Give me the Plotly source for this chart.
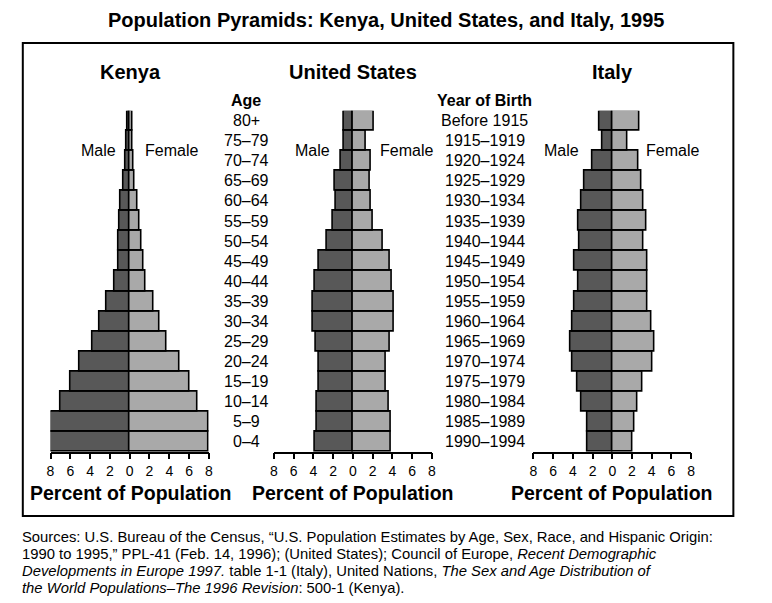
import plotly.graph_objects as go

ages = ["0–4", "5–9", "10–14", "15–19", "20–24", "25–29", "30–34", "35–39", "40–44",
        "45–49", "50–54", "55–59", "60–64", "65–69", "70–74", "75–79", "80+"]
birth_years = ["1990–1994", "1985–1989", "1980–1984", "1975–1979", "1970–1974", "1965–1969",
               "1960–1964", "1955–1959", "1950–1954", "1945–1949", "1940–1944", "1935–1939",
               "1930–1934", "1925–1929", "1920–1924", "1915–1919", "Before 1915"]

kenya_male = [8.0, 8.0, 7.0, 6.0, 5.1, 3.8, 3.0, 2.3, 1.5, 1.15, 1.15, 1.0, 0.9, 0.6, 0.4, 0.3, 0.25]
kenya_female = [8.0, 8.0, 6.9, 6.0, 5.0, 3.7, 3.05, 2.4, 1.55, 1.35, 1.15, 0.95, 0.75, 0.45, 0.35, 0.3, 0.25]
us_male = [3.85, 3.65, 3.65, 3.45, 3.45, 3.7, 4.05, 4.05, 3.8, 3.45, 2.65, 2.0, 1.75, 1.8, 1.2, 0.9, 0.95]
us_female = [3.85, 3.85, 3.6, 3.3, 3.35, 3.8, 4.15, 4.15, 4.0, 3.7, 3.0, 2.0, 1.85, 1.75, 1.85, 1.35, 2.15]
italy_male = [2.5, 2.5, 3.1, 3.5, 4.0, 4.25, 4.0, 3.8, 3.4, 3.8, 3.35, 3.4, 3.1, 2.85, 2.05, 0.95, 1.35]
italy_female = [2.0, 2.3, 2.6, 3.1, 4.05, 4.25, 4.0, 3.6, 3.6, 3.6, 3.2, 3.5, 3.2, 2.95, 2.7, 1.55, 2.8]

countries = ["Kenya", "United States", "Italy"]
tick_vals = [-8, -6, -4, -2, 0, 2, 4, 6, 8]
tick_text = ["8", "6", "4", "2", "0", "2", "4", "6", "8"]

source_lines = [
    "Sources: U.S. Bureau of the Census, “U.S. Population Estimates by Age, Sex, Race, and Hispanic Origin:",
    "1990 to 1995,” PPL-41 (Feb. 14, 1996); (United States); Council of Europe, <i>Recent Demographic</i>",
    "<i>Developments in Europe 1997.</i> table 1-1 (Italy), United Nations, <i>The Sex and Age Distribution of</i>",
    "<i>the World Populations–The 1996 Revision</i>: 500-1 (Kenya).",
]

W, H = 772, 603
FONT = "Liberation Sans, Arial, sans-serif"
MALE_C = "#585858"
FEMALE_C = "#a9a9a9"

def px(x):
    return x / W

def py(y):
    return 1 - y / H

x_domains = [(47, 207), (272.7, 432.3), (535, 694.3)]
y_dom = [py(451.7), py(110.7)]

fig = go.Figure()
data = [(kenya_male, kenya_female), (us_male, us_female), (italy_male, italy_female)]
pos = list(range(len(ages)))
for i, (m, f) in enumerate(data):
    xa = "x" if i == 0 else f"x{i+1}"
    ya = "y" if i == 0 else f"y{i+1}"
    fig.add_trace(go.Bar(y=pos, x=[-v for v in m], orientation="h", xaxis=xa, yaxis=ya,
                         marker=dict(color=MALE_C, line=dict(color="black", width=1.6)),
                         showlegend=False, hoverinfo="skip"))
    fig.add_trace(go.Bar(y=pos, x=f, orientation="h", xaxis=xa, yaxis=ya,
                         marker=dict(color=FEMALE_C, line=dict(color="black", width=1.6)),
                         showlegend=False, hoverinfo="skip"))

layout = dict(
    width=W, height=H, margin=dict(l=0, r=0, t=0, b=0),
    paper_bgcolor="white", plot_bgcolor="white",
    barmode="relative", bargap=0,
    font=dict(family=FONT, color="black"),
)
for i, (a, b) in enumerate(x_domains):
    xk = "xaxis" if i == 0 else f"xaxis{i+1}"
    yk = "yaxis" if i == 0 else f"yaxis{i+1}"
    layout[xk] = dict(domain=[px(a), px(b)], range=[-8, 8], tickvals=tick_vals, ticktext=tick_text,
                      ticks="outside", ticklen=6, tickwidth=1.5, tickcolor="black",
                      showline=True, linecolor="black", linewidth=1.5, showgrid=False,
                      zeroline=False, tickfont=dict(size=14, family=FONT),
                      anchor="y" if i == 0 else f"y{i+1}", fixedrange=True)
    layout[yk] = dict(domain=y_dom, range=[-0.5, 16.5], visible=False,
                      anchor="x" if i == 0 else f"x{i+1}", fixedrange=True)
fig.update_layout(**layout)

ann = []
ann.append(dict(text="<b>Population Pyramids: Kenya, United States, and Italy, 1995</b>",
                x=px(386), y=py(20), xref="paper", yref="paper", showarrow=False,
                font=dict(size=20, family=FONT), xanchor="center", yanchor="middle"))
centers = [128, 352.5, 614.5]
for c, name in zip(centers, countries):
    ann.append(dict(text=f"<b>{name}</b>", x=px(c), y=py(72), xref="paper", yref="paper",
                    showarrow=False, font=dict(size=20, family=FONT), xanchor="center", yanchor="middle"))
    ann.append(dict(text="<b>Percent of Population</b>", x=px(c), y=py(493), xref="paper", yref="paper",
                    showarrow=False, font=dict(size=19.5, family=FONT), xanchor="center", yanchor="middle"))
for mx, fx in [(95, 169), (312, 407), (563, 676)]:
    ann.append(dict(text="Male", x=px(mx), y=py(150), xref="paper", yref="paper", showarrow=False,
                    font=dict(size=16, family=FONT), xanchor="center", yanchor="middle"))
    ann.append(dict(text="Female", x=px(fx), y=py(150), xref="paper", yref="paper", showarrow=False,
                    font=dict(size=16, family=FONT), xanchor="center", yanchor="middle"))
ann.append(dict(text="<b>Age</b>", x=px(245), y=py(100), xref="paper", yref="paper", showarrow=False,
                font=dict(size=16, family=FONT), xanchor="center", yanchor="middle"))
ann.append(dict(text="<b>Year of Birth</b>", x=px(486), y=py(100), xref="paper", yref="paper", showarrow=False,
                font=dict(size=16, family=FONT), xanchor="center", yanchor="middle"))
for k, (a, yb) in enumerate(zip(ages, birth_years)):
    ann.append(dict(text=a, x=px(245), y=k, xref="paper", yref="y", showarrow=False,
                    font=dict(size=16, family=FONT), xanchor="center", yanchor="middle"))
    ann.append(dict(text=yb, x=px(486), y=k, xref="paper", yref="y", showarrow=False,
                    font=dict(size=16, family=FONT), xanchor="center", yanchor="middle"))
for j, line in enumerate(source_lines):
    ann.append(dict(text=line, x=px(16), y=py(537 + 17 * j), xref="paper", yref="paper", showarrow=False,
                    align="left", font=dict(size=14.8, family=FONT), xanchor="left", yanchor="middle"))
fig.update_layout(annotations=ann)

fig.add_shape(type="rect", xref="paper", yref="paper", x0=px(19), x1=px(737), y0=py(516), y1=py(43),
              line=dict(color="black", width=2), fillcolor="rgba(0,0,0,0)")

fig.write_html("out.html", config=dict(displayModeBar=False))
